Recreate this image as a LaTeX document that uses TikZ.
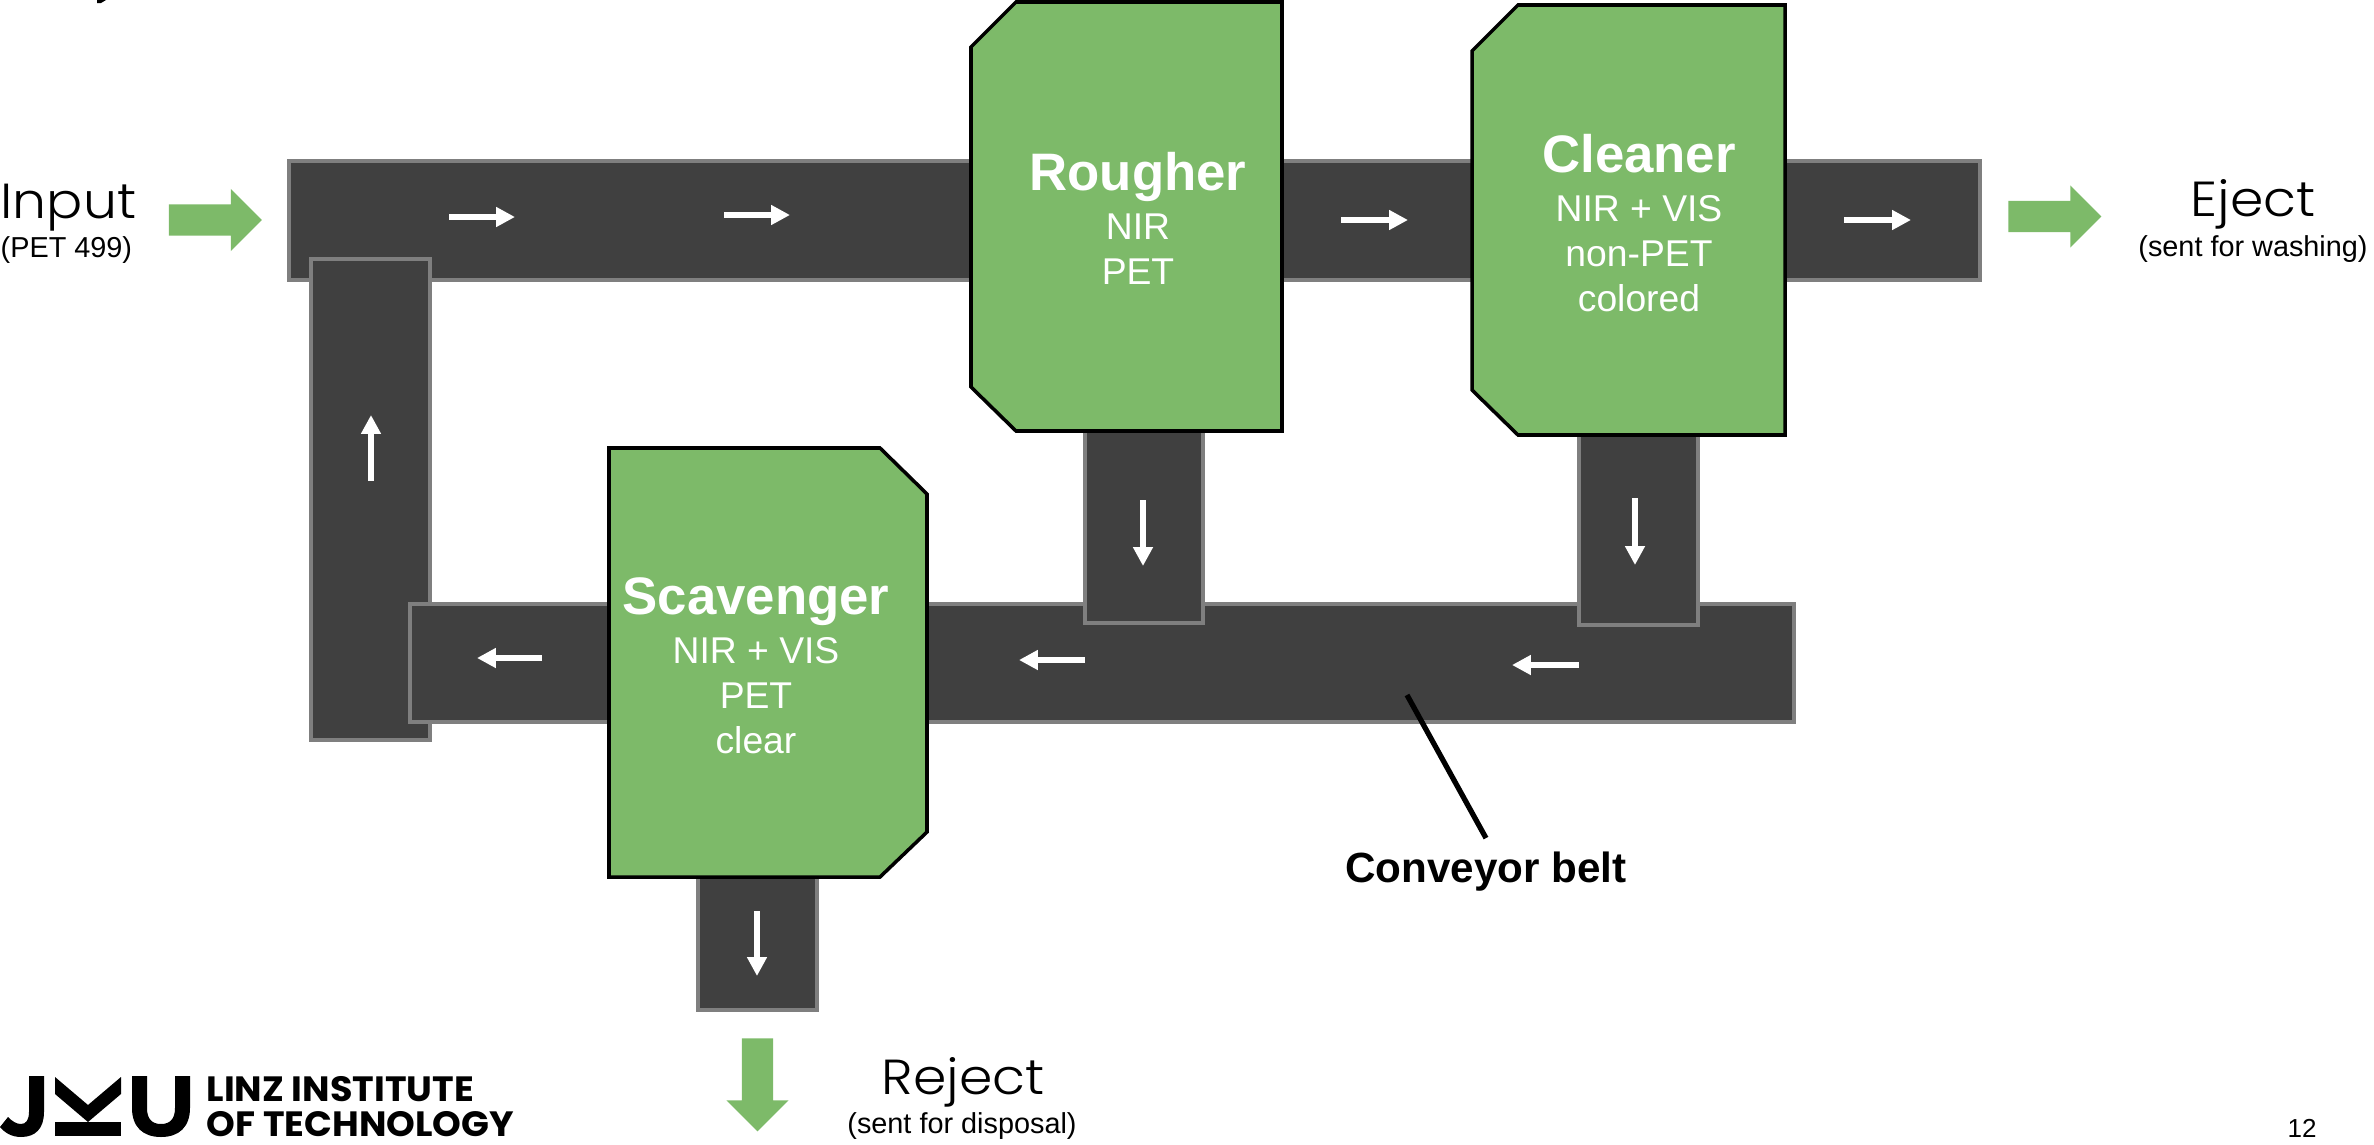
\documentclass[tikz,border=0pt]{standalone}
\usepackage{fontspec}
\setmainfont{Liberation Sans}
\newfontfamily\wideface[UprightFont=* Light,FakeStretch=1.09]{Poppins}
\newfontfamily\logoface[UprightFont=* Bold,FakeStretch=1.04]{Poppins}
\usetikzlibrary{arrows.meta,shapes.arrows}
\definecolor{beltdark}{HTML}{404040}
\definecolor{beltedge}{HTML}{7F7F7F}
\definecolor{sortgreen}{HTML}{7DBA69}
\tikzset{
	belt/.style={draw=beltedge,fill=beltdark,line width=1.1pt},
	flow/.style={white,line width=1.8pt,-{Triangle[length=5.4pt,width=5.4pt]}},
	sorter/.style={draw=black,fill=sortgreen,line width=1pt},
	sortertext/.style={white,align=center,font=\fontsize{10.6}{12.8}\selectfont,anchor=north},
	bigarrow/.style={single arrow,fill=sortgreen,inner xsep=0pt,inner ysep=4.27pt,minimum height=26.5pt,
		single arrow head extend=4.4pt,single arrow tip angle=90},
	bigtext/.style={font=\wideface\fontsize{14}{16}\selectfont},
	smalltext/.style={font=\fontsize{8.2}{10}\selectfont},
	logotext/.style={font=\logoface\fontsize{10}{10}\selectfont,align=left,anchor=north west,inner sep=0pt}
}
\newcommand{\sortertitle}[1]{{\fontsize{15}{18}\selectfont\bfseries #1}}
\begin{document}
\begin{tikzpicture}[x=0.01cm,y=-0.01cm]

	\useasboundingbox (0,0) rectangle (2374,1145);

	\fill[black] (97,0) -- (106,0) -- (101,3) -- (97,3) -- cycle;

	\draw[belt] (289,161) rectangle (1980,280);
	\draw[belt] (311,259) rectangle (430,740);
	\draw[belt] (410,604) rectangle (1794,722);
	\draw[belt] (1085,400) rectangle (1203,623);
	\draw[belt] (1579,400) rectangle (1698,625);
	\draw[belt] (698,800) rectangle (817,1010);

	\draw[sorter] (1016,2) -- (1282,2) -- (1282,431) -- (1016,431) -- (971,387) -- (971,47) -- cycle;
	\draw[sorter] (1518,5) -- (1785,5) -- (1785,435) -- (1518,435) -- (1472,390) -- (1472,51) -- cycle;
	\draw[sorter] (609,448) -- (880,448) -- (927,494) -- (927,832) -- (880,877) -- (609,877) -- cycle;

	\node[sortertext] (rougher) at (1138,140) {\sortertitle{Rougher}\\[1pt]NIR\\PET};
	\node[sortertext] (cleaner) at (1639,122) {\sortertitle{Cleaner}\\[1pt]NIR + VIS\\non-PET\\colored};
	\node[sortertext] (scavenger) at (756,565) {\sortertitle{Scavenger}\\[1.3pt]NIR + VIS\\PET\\clear};

	\draw[flow] (449,217) -- (515,217);
	\draw[flow] (724,215) -- (790,215);
	\draw[flow] (1341,220) -- (1408,220);
	\draw[flow] (1844,220) -- (1911,220);
	\draw[flow] (371,481) -- (371,415);
	\draw[flow] (1143,500) -- (1143,566);
	\draw[flow] (1635,498) -- (1635,565);
	\draw[flow] (757,911) -- (757,976);
	\draw[flow] (542,658) -- (477,658);
	\draw[flow] (1085,660) -- (1019,660);
	\draw[flow] (1579,665) -- (1512,665);

	\node[bigarrow] (inarrow) at (207.5,220) {};
	\node[bigarrow] (ejectarrow) at (2047,216.5) {};
	\node[bigarrow,rotate=-90] (rejectarrow) at (757.5,1077) {};

	\node[bigtext,anchor=west,inner sep=0pt] (input) at (0,208) {Input};
	\node[smalltext,anchor=west,inner sep=0pt] (pet) at (0,250) {(PET 499)};
	\node[bigtext] (eject) at (2253,204) {Eject};
	\node[smalltext] (washing) at (2253,249) {(sent for washing)};
	\node[bigtext] (reject) at (963,1082) {Reject};
	\node[smalltext] (disposal) at (962,1126) {(sent for disposal)};

	\coordinate (beltpoint) at (1407,695);
	\node[font=\fontsize{12}{14}\selectfont\bfseries,inner sep=0pt] (beltlabel) at (1486,872) {Conveyor belt};
	\draw[black,line width=1.5pt] ([yshift=3.85pt]beltlabel.north) -- (beltpoint);

	\fill[black] (29,1076) -- (44,1076) -- (44,1112) .. controls (44,1129) and (35,1137) .. (21,1137)
		.. controls (12,1137) and (5,1133) .. (0,1127) -- (8,1117) .. controls (12,1121) and (16,1124) .. (21,1124)
		.. controls (26,1124) and (29,1120) .. (29,1112) -- cycle;
	\fill[black] (55,1077) -- (88,1105) -- (121,1077) -- (121,1094) -- (88,1122) -- (55,1094) -- cycle;
	\fill[black] (55,1122) rectangle (121,1136);
	\fill[black] (132,1076) -- (147,1076) -- (147,1108) .. controls (147,1119) and (152,1124) .. (161,1124)
		.. controls (170,1124) and (175,1119) .. (175,1108) -- (175,1076) -- (190,1076) -- (190,1108)
		.. controls (190,1127) and (179,1137) .. (161,1137) .. controls (143,1137) and (132,1127) .. (132,1108) -- cycle;
	\node[logotext] (logoname) at (206,1075.5) {LINZ INSTITUTE\\OF TECHNOLOGY};

	\node[font=\fontsize{7.4}{9}\selectfont,inner sep=0pt] (pagenumber) at (2302,1128) {12};

\end{tikzpicture}
\end{document}
